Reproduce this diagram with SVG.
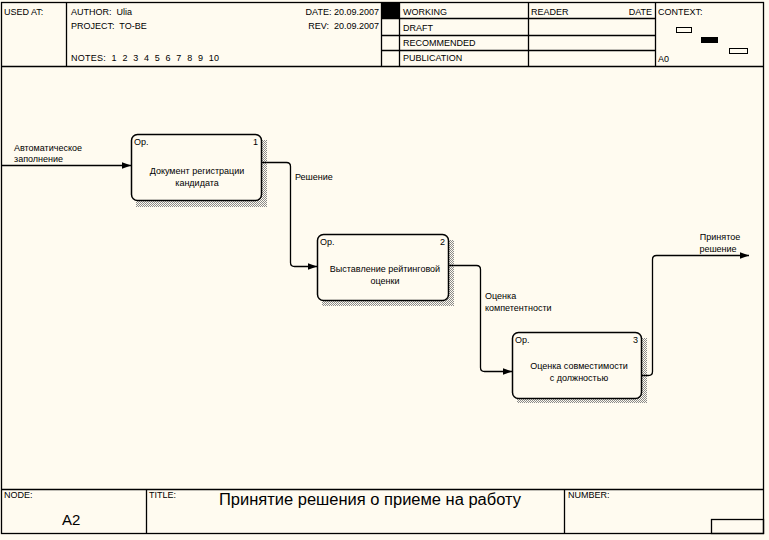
<svg xmlns="http://www.w3.org/2000/svg" width="769" height="540" viewBox="0 0 769 540">
<defs>
<style>
.t{font-family:"Liberation Sans",Arial,sans-serif;font-size:9px;fill:#000}
.h{font-family:"Liberation Sans",Arial,sans-serif;font-size:9px;fill:#000;white-space:pre}
.ln{stroke:#000;stroke-width:1.3;fill:none}
.box{fill:#fffbf0;stroke:#000;stroke-width:1.5}
.sh{fill:url(#hatch)}
.c{stroke:#000;stroke-width:1.3;fill:none}
</style>
<pattern id="hatch" width="2" height="2" patternUnits="userSpaceOnUse">
<rect width="2" height="2" fill="#fffbf0"/>
<rect x="0" y="0" width="1" height="1" fill="#8a8a8a"/>
<rect x="1" y="1" width="1" height="1" fill="#8a8a8a"/>
</pattern>
<marker id="ah" markerWidth="10" markerHeight="8" refX="9" refY="4" orient="auto" markerUnits="userSpaceOnUse">
<path d="M0,0.8 L9,4 L0,7.2 Z" fill="#000"/>
</marker>
</defs>
<rect x="0" y="0" width="769" height="540" fill="#fffbf0"/>

<g id="frame">
<rect x="1.5" y="2.5" width="762" height="531" class="ln"/>
<line x1="1.5" y1="66.5" x2="763.5" y2="66.5" class="ln"/>
<line x1="66.5" y1="2.5" x2="66.5" y2="66.5" class="ln"/>
<line x1="381.5" y1="2.5" x2="381.5" y2="66.5" class="ln"/>
<rect x="382" y="3" width="18" height="15" fill="#000"/>
<line x1="399.5" y1="2.5" x2="399.5" y2="66.5" class="ln"/>
<line x1="528.5" y1="2.5" x2="528.5" y2="66.5" class="ln"/>
<line x1="655.5" y1="2.5" x2="655.5" y2="66.5" class="ln"/>
<line x1="381.5" y1="18.5" x2="655.5" y2="18.5" class="ln"/>
<line x1="381.5" y1="35.5" x2="655.5" y2="35.5" class="ln"/>
<line x1="381.5" y1="50.5" x2="655.5" y2="50.5" class="ln"/>
<rect x="676.5" y="27.5" width="15" height="5" fill="none" stroke="#000"/>
<rect x="701" y="37" width="17" height="6" fill="#000"/>
<rect x="729.5" y="48.5" width="18" height="5" fill="none" stroke="#000"/>
<text x="4" y="15" class="h">USED AT:</text>
<text x="71" y="15" class="h">AUTHOR:  Ulia</text>
<text x="71" y="29" class="h">PROJECT:  TO-BE</text>
<text x="71" y="61" class="h" textLength="148" lengthAdjust="spacing">NOTES:  1  2  3  4  5  6  7  8  9  10</text>
<text x="379" y="15" class="h" text-anchor="end">DATE: 20.09.2007</text>
<text x="379" y="29" class="h" text-anchor="end">REV:  20.09.2007</text>
<text x="403" y="15" class="h">WORKING</text>
<text x="403" y="31" class="h">DRAFT</text>
<text x="403" y="46" class="h">RECOMMENDED</text>
<text x="403" y="61" class="h">PUBLICATION</text>
<text x="531" y="15" class="h">READER</text>
<text x="652" y="15" class="h" text-anchor="end">DATE</text>
<text x="658" y="15" class="h">CONTEXT:</text>
<text x="658" y="62" class="h">A0</text>

<line x1="1.5" y1="489.5" x2="763.5" y2="489.5" class="ln"/>
<line x1="146.5" y1="489.5" x2="146.5" y2="533.5" class="ln"/>
<line x1="564.5" y1="489.5" x2="564.5" y2="533.5" class="ln"/>
<rect x="711.5" y="519.5" width="52" height="14" class="ln"/>
<text x="4" y="498" class="h">NODE:</text>
<text x="149" y="498" class="h">TITLE:</text>
<text x="568" y="498" class="h">NUMBER:</text>
<text x="62" y="525" font-family="Liberation Sans,Arial,sans-serif" font-size="15">A2</text>
<text x="219" y="505" font-family="Liberation Sans,Arial,sans-serif" font-size="16" textLength="302" lengthAdjust="spacingAndGlyphs">Принятие решения о приеме на работу</text>
</g>

<g id="node1">
<rect x="136" y="140" width="131" height="67" class="sh"/>
<rect x="131.5" y="134.5" width="130" height="66" rx="6" class="box"/>
<text x="134" y="145" class="t">Ор.</text>
<text x="258" y="145" class="t" text-anchor="end">1</text>
<text x="197" y="174" class="t" text-anchor="middle">Документ регистрации</text>
<text x="197" y="186" class="t" text-anchor="middle">кандидата</text>
</g>

<g id="node2">
<rect x="322" y="240" width="132" height="66" class="sh"/>
<rect x="317.5" y="234.5" width="131" height="66" rx="6" class="box"/>
<text x="320" y="245" class="t">Ор.</text>
<text x="445" y="245" class="t" text-anchor="end">2</text>
<text x="385" y="272" class="t" text-anchor="middle">Выставление рейтинговой</text>
<text x="385" y="284" class="t" text-anchor="middle">оценки</text>
</g>

<g id="node3">
<rect x="517" y="338" width="130" height="65" class="sh"/>
<rect x="512.5" y="332.5" width="129" height="66" rx="6" class="box"/>
<text x="515" y="343" class="t">Ор.</text>
<text x="638" y="343" class="t" text-anchor="end">3</text>
<text x="579" y="369" class="t" text-anchor="middle">Оценка совместимости</text>
<text x="579" y="381" class="t" text-anchor="middle">с должностью</text>
</g>

<g id="connectors">
<path d="M2,165.5 H131" class="c" marker-end="url(#ah)"/>
<path d="M262,162.5 H286.5 Q290.5,162.5 290.5,166.5 V262.5 Q290.5,266.5 294.5,266.5 H317" class="c" marker-end="url(#ah)"/>
<path d="M449,265.5 H476.5 Q480.5,265.5 480.5,269.5 V367.5 Q480.5,371.5 484.5,371.5 H512" class="c" marker-end="url(#ah)"/>
<path d="M642,375.5 H648.5 Q652.5,375.5 652.5,371.5 V259.5 Q652.5,255.5 656.5,255.5 H749" class="c" marker-end="url(#ah)"/>
<text x="14" y="151" class="t">Автоматическое</text>
<text x="14" y="162" class="t">заполнение</text>
<text x="295" y="180" class="t">Решение</text>
<text x="485" y="299" class="t">Оценка</text>
<text x="485" y="311" class="t">компетентности</text>
<text x="720" y="240" class="t" text-anchor="middle">Принятое</text>
<text x="718" y="252" class="t" text-anchor="middle">решение</text>
</g>
</svg>
